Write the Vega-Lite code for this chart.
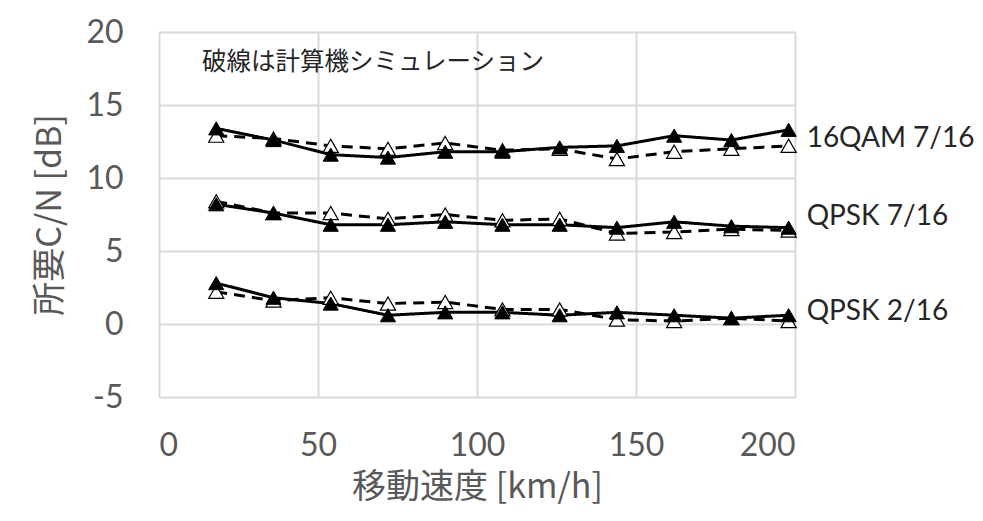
{
  "$schema": "https://vega.github.io/schema/vega-lite/v6.json",
  "width": 636,
  "height": 365,
  "autosize": {"type": "none"},
  "padding": {"left": 159, "top": 32, "right": 188, "bottom": 124},
  "background": "white",
  "config": {
    "view": {"stroke": null},
    "font": "Lato, Noto Sans CJK JP"
  },
  "datasets": {
    "pts": [
      {"series": "16QAM 7/16", "kind": "exp", "speed": 18, "cn": 13.4},
      {"series": "16QAM 7/16", "kind": "exp", "speed": 36, "cn": 12.6},
      {"series": "16QAM 7/16", "kind": "exp", "speed": 54, "cn": 11.6},
      {"series": "16QAM 7/16", "kind": "exp", "speed": 72, "cn": 11.4},
      {"series": "16QAM 7/16", "kind": "exp", "speed": 90, "cn": 11.8},
      {"series": "16QAM 7/16", "kind": "exp", "speed": 108, "cn": 11.8},
      {"series": "16QAM 7/16", "kind": "exp", "speed": 126, "cn": 12.1},
      {"series": "16QAM 7/16", "kind": "exp", "speed": 144, "cn": 12.2},
      {"series": "16QAM 7/16", "kind": "exp", "speed": 162, "cn": 12.9},
      {"series": "16QAM 7/16", "kind": "exp", "speed": 180, "cn": 12.6},
      {"series": "16QAM 7/16", "kind": "exp", "speed": 198, "cn": 13.3},
      {"series": "16QAM 7/16", "kind": "sim", "speed": 18, "cn": 12.9},
      {"series": "16QAM 7/16", "kind": "sim", "speed": 36, "cn": 12.7},
      {"series": "16QAM 7/16", "kind": "sim", "speed": 54, "cn": 12.2},
      {"series": "16QAM 7/16", "kind": "sim", "speed": 72, "cn": 12.0},
      {"series": "16QAM 7/16", "kind": "sim", "speed": 90, "cn": 12.4},
      {"series": "16QAM 7/16", "kind": "sim", "speed": 108, "cn": 11.9},
      {"series": "16QAM 7/16", "kind": "sim", "speed": 126, "cn": 12.0},
      {"series": "16QAM 7/16", "kind": "sim", "speed": 144, "cn": 11.3},
      {"series": "16QAM 7/16", "kind": "sim", "speed": 162, "cn": 11.8},
      {"series": "16QAM 7/16", "kind": "sim", "speed": 180, "cn": 12.0},
      {"series": "16QAM 7/16", "kind": "sim", "speed": 198, "cn": 12.2},
      {"series": "QPSK 7/16", "kind": "exp", "speed": 18, "cn": 8.2},
      {"series": "QPSK 7/16", "kind": "exp", "speed": 36, "cn": 7.6},
      {"series": "QPSK 7/16", "kind": "exp", "speed": 54, "cn": 6.8},
      {"series": "QPSK 7/16", "kind": "exp", "speed": 72, "cn": 6.8},
      {"series": "QPSK 7/16", "kind": "exp", "speed": 90, "cn": 7.0},
      {"series": "QPSK 7/16", "kind": "exp", "speed": 108, "cn": 6.8},
      {"series": "QPSK 7/16", "kind": "exp", "speed": 126, "cn": 6.8},
      {"series": "QPSK 7/16", "kind": "exp", "speed": 144, "cn": 6.6},
      {"series": "QPSK 7/16", "kind": "exp", "speed": 162, "cn": 7.0},
      {"series": "QPSK 7/16", "kind": "exp", "speed": 180, "cn": 6.7},
      {"series": "QPSK 7/16", "kind": "exp", "speed": 198, "cn": 6.6},
      {"series": "QPSK 7/16", "kind": "sim", "speed": 18, "cn": 8.4},
      {"series": "QPSK 7/16", "kind": "sim", "speed": 36, "cn": 7.6},
      {"series": "QPSK 7/16", "kind": "sim", "speed": 54, "cn": 7.6},
      {"series": "QPSK 7/16", "kind": "sim", "speed": 72, "cn": 7.2},
      {"series": "QPSK 7/16", "kind": "sim", "speed": 90, "cn": 7.5},
      {"series": "QPSK 7/16", "kind": "sim", "speed": 108, "cn": 7.1},
      {"series": "QPSK 7/16", "kind": "sim", "speed": 126, "cn": 7.2},
      {"series": "QPSK 7/16", "kind": "sim", "speed": 144, "cn": 6.2},
      {"series": "QPSK 7/16", "kind": "sim", "speed": 162, "cn": 6.3},
      {"series": "QPSK 7/16", "kind": "sim", "speed": 180, "cn": 6.5},
      {"series": "QPSK 7/16", "kind": "sim", "speed": 198, "cn": 6.4},
      {"series": "QPSK 2/16", "kind": "exp", "speed": 18, "cn": 2.8},
      {"series": "QPSK 2/16", "kind": "exp", "speed": 36, "cn": 1.8},
      {"series": "QPSK 2/16", "kind": "exp", "speed": 54, "cn": 1.4},
      {"series": "QPSK 2/16", "kind": "exp", "speed": 72, "cn": 0.6},
      {"series": "QPSK 2/16", "kind": "exp", "speed": 90, "cn": 0.8},
      {"series": "QPSK 2/16", "kind": "exp", "speed": 108, "cn": 0.8},
      {"series": "QPSK 2/16", "kind": "exp", "speed": 126, "cn": 0.6},
      {"series": "QPSK 2/16", "kind": "exp", "speed": 144, "cn": 0.8},
      {"series": "QPSK 2/16", "kind": "exp", "speed": 162, "cn": 0.6},
      {"series": "QPSK 2/16", "kind": "exp", "speed": 180, "cn": 0.4},
      {"series": "QPSK 2/16", "kind": "exp", "speed": 198, "cn": 0.6},
      {"series": "QPSK 2/16", "kind": "sim", "speed": 18, "cn": 2.2},
      {"series": "QPSK 2/16", "kind": "sim", "speed": 36, "cn": 1.6},
      {"series": "QPSK 2/16", "kind": "sim", "speed": 54, "cn": 1.8},
      {"series": "QPSK 2/16", "kind": "sim", "speed": 72, "cn": 1.4},
      {"series": "QPSK 2/16", "kind": "sim", "speed": 90, "cn": 1.5},
      {"series": "QPSK 2/16", "kind": "sim", "speed": 108, "cn": 1.0},
      {"series": "QPSK 2/16", "kind": "sim", "speed": 126, "cn": 1.0},
      {"series": "QPSK 2/16", "kind": "sim", "speed": 144, "cn": 0.3},
      {"series": "QPSK 2/16", "kind": "sim", "speed": 162, "cn": 0.2},
      {"series": "QPSK 2/16", "kind": "sim", "speed": 180, "cn": 0.4},
      {"series": "QPSK 2/16", "kind": "sim", "speed": 198, "cn": 0.2}
    ],
    "labels": [
      {"label": "16QAM 7/16", "speed": 198, "cn": 12.65},
      {"label": "QPSK 7/16", "speed": 198, "cn": 7.3},
      {"label": "QPSK 2/16", "speed": 198, "cn": 0.8}
    ],
    "note": [
      {"label": "破線は計算機シミュレーション", "speed": 13.5, "cn": 17.85}
    ]
  },
  "encoding": {
    "x": {
      "field": "speed", "type": "quantitative",
      "scale": {"domain": [0, 200], "nice": false},
      "axis": {
        "title": "移動速度 [km/h]",
        "values": [0, 50, 100, 150, 200],
        "grid": true, "gridColor": "#d9d9d9", "gridWidth": 2,
        "domain": false, "ticks": false,
        "labelFontSize": 32, "labelColor": "#595959", "labelPadding": 33,
        "labelFont": "Lato",
        "titleFontSize": 34, "titleColor": "#595959", "titleFontWeight": "normal",
        "titleFont": "Noto Sans CJK JP", "titlePadding": 9
      }
    },
    "y": {
      "field": "cn", "type": "quantitative",
      "scale": {"domain": [-5, 20], "nice": false, "zero": false},
      "axis": {
        "title": "所要C/N [dB]",
        "values": [-5, 0, 5, 10, 15, 20],
        "labelExpr": "datum.value < 0 ? '-' + abs(datum.value) : datum.label",
        "grid": true, "gridColor": "#d9d9d9", "gridWidth": 2,
        "domain": false, "ticks": false,
        "labelFontSize": 32, "labelColor": "#595959", "labelPadding": 36,
        "labelFont": "Lato",
        "titleFontSize": 34, "titleColor": "#595959", "titleFontWeight": "normal",
        "titleFont": "Noto Sans CJK JP", "titlePadding": 18
      }
    }
  },
  "layer": [
    {
      "data": {"name": "pts"},
      "mark": {"type": "line", "color": "black", "strokeWidth": 3},
      "encoding": {
        "detail": {"field": "series"},
        "strokeDash": {
          "field": "kind", "type": "nominal",
          "scale": {"domain": ["sim", "exp"], "range": [[11, 7], [1, 0]]},
          "legend": null
        }
      }
    },
    {
      "data": {"name": "pts"},
      "transform": [{"filter": "datum.kind === 'sim'"}],
      "mark": {"type": "point", "shape": "triangle-up", "filled": true, "fill": "white", "stroke": "black", "strokeWidth": 1.2, "size": 230, "opacity": 1}
    },
    {
      "data": {"name": "pts"},
      "transform": [{"filter": "datum.kind === 'exp'"}],
      "mark": {"type": "point", "shape": "triangle-up", "filled": true, "fill": "black", "stroke": "black", "strokeWidth": 1, "size": 230, "opacity": 1}
    },
    {
      "data": {"name": "labels"},
      "mark": {"type": "text", "align": "left", "baseline": "middle", "dx": 18, "fontSize": 28, "color": "#262626", "font": "Lato", "clip": false},
      "encoding": {"text": {"field": "label"}}
    },
    {
      "data": {"name": "note"},
      "mark": {"type": "text", "align": "left", "baseline": "middle", "fontSize": 24.5, "color": "#262626", "font": "Noto Sans CJK JP"},
      "encoding": {"text": {"field": "label"}}
    }
  ]
}
